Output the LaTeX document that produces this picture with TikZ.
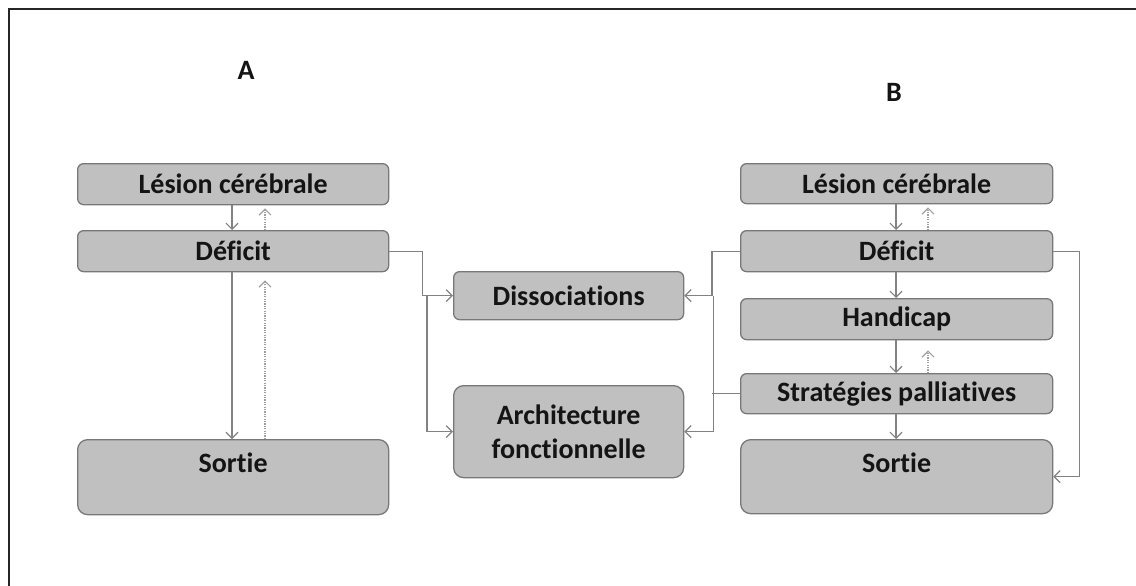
\documentclass[tikz,border=0pt]{standalone}
\usepackage{fontspec}
\setmainfont{Carlito}[Ligatures=NoCommon]
\usetikzlibrary{arrows.meta}
\definecolor{boxfill}{RGB}{192,192,192}
\definecolor{boxline}{RGB}{120,120,120}
\definecolor{conn}{RGB}{130,130,130}
\definecolor{dotc}{RGB}{160,160,160}
\definecolor{txt}{RGB}{20,20,20}
\begin{document}
\begin{tikzpicture}[x=1pt,y=-1pt,
  box/.style={draw=boxline, fill=boxfill, rounded corners=6pt, line width=1.3pt,
    inner sep=0pt, anchor=north west, font=\fontsize{28}{34}\selectfont\bfseries,
    text=txt, align=center},
  bigbox/.style={box, rounded corners=10pt},
  arr/.style={draw=conn, line width=1.2pt, -{Straight Barb[length=6pt,width=12pt]}},
  dotarr/.style={draw=dotc, line width=1.2pt, dash pattern=on 1.2pt off 1.2pt, -{Straight Barb[length=6pt,width=12pt]}},
  plain/.style={draw=conn, line width=1.2pt},
  lab/.style={font=\fontsize{28}{34}\selectfont\bfseries, text=txt}]
\useasboundingbox (0,0) rectangle (1136,586);
\draw[line width=2pt, black!85] (9,586) -- (9,9) -- (1136,9);

% labels
\node[lab] (labA) at (246,70) {A};
\node[lab] (labB) at (894,92) {B};

% column A
\node[box, minimum width=311pt, minimum height=41pt] (lA) at (77,163) {Lésion cérébrale};
\node[box, minimum width=311pt, minimum height=41pt] (dA) at (77,230) {Déficit};
\node[bigbox, minimum width=311pt, text height=33pt, text depth=42pt] (sA) at (77,439) {Sortie};

% centre
\node[box, minimum width=230pt, minimum height=48pt] (diss) at (453,271) {Dissociations};
\node[bigbox, minimum width=230pt, minimum height=92pt] (arch) at (453,385) {Architecture\\fonctionnelle};

% column B
\node[box, minimum width=312pt, minimum height=40pt] (lB) at (740,163) {Lésion cérébrale};
\node[box, minimum width=312pt, minimum height=41pt] (dB) at (740,230) {Déficit};
\node[box, minimum width=312pt, minimum height=41pt] (hB) at (740,298) {Handicap};
\node[box, minimum width=312pt, minimum height=40pt] (stB) at (740,373) {Stratégies palliatives};
\node[bigbox, minimum width=312pt, text height=33pt, text depth=41pt] (sB) at (740,439) {Sortie};

% column A connectors
\draw[arr] ([xshift=155pt]lA.south west) -- ([xshift=155pt]dA.north west);
\draw[dotarr, shorten >=3pt] ([xshift=188pt]dA.north west) -- ([xshift=188pt]lA.south west);
\draw[arr] ([xshift=155pt]dA.south west) -- ([xshift=155pt]sA.north west);
\draw[dotarr, shorten >=8pt] ([xshift=188pt]sA.north west) -- ([xshift=188pt]dA.south west);

% A to centre
\draw[arr] (dA.east) -- ++(33,0) |- (diss.west);
\coordinate (jA) at ([xshift=-26pt]diss.west);
\draw[arr] (jA) |- (arch.west);

% B to centre
\draw[arr] (dB.west) -- ++(-28,0) |- (diss.east);
\coordinate (jB) at ([xshift=29pt]diss.east);
\draw[arr] (jB) |- (arch.east);
\draw[plain] (stB.west) -- ++(-28,0);

% column B connectors
\draw[arr] ([xshift=156pt]lB.south west) -- ([xshift=156pt]dB.north west);
\draw[dotarr, shorten >=3pt] ([xshift=188pt]dB.north west) -- ([xshift=188pt]lB.south west);
\draw[arr] ([xshift=156pt]dB.south west) -- ([xshift=156pt]hB.north west);
\draw[arr] ([xshift=156pt]hB.south west) -- ([xshift=156pt]stB.north west);
\draw[dotarr, shorten >=10pt] ([xshift=188pt]stB.north west) -- ([xshift=188pt]hB.south west);
\draw[arr] ([xshift=156pt]stB.south west) -- ([xshift=156pt]sB.north west);
\draw[arr] (dB.east) -- ++(26,0) |- (sB.east);
\end{tikzpicture}
\end{document}
